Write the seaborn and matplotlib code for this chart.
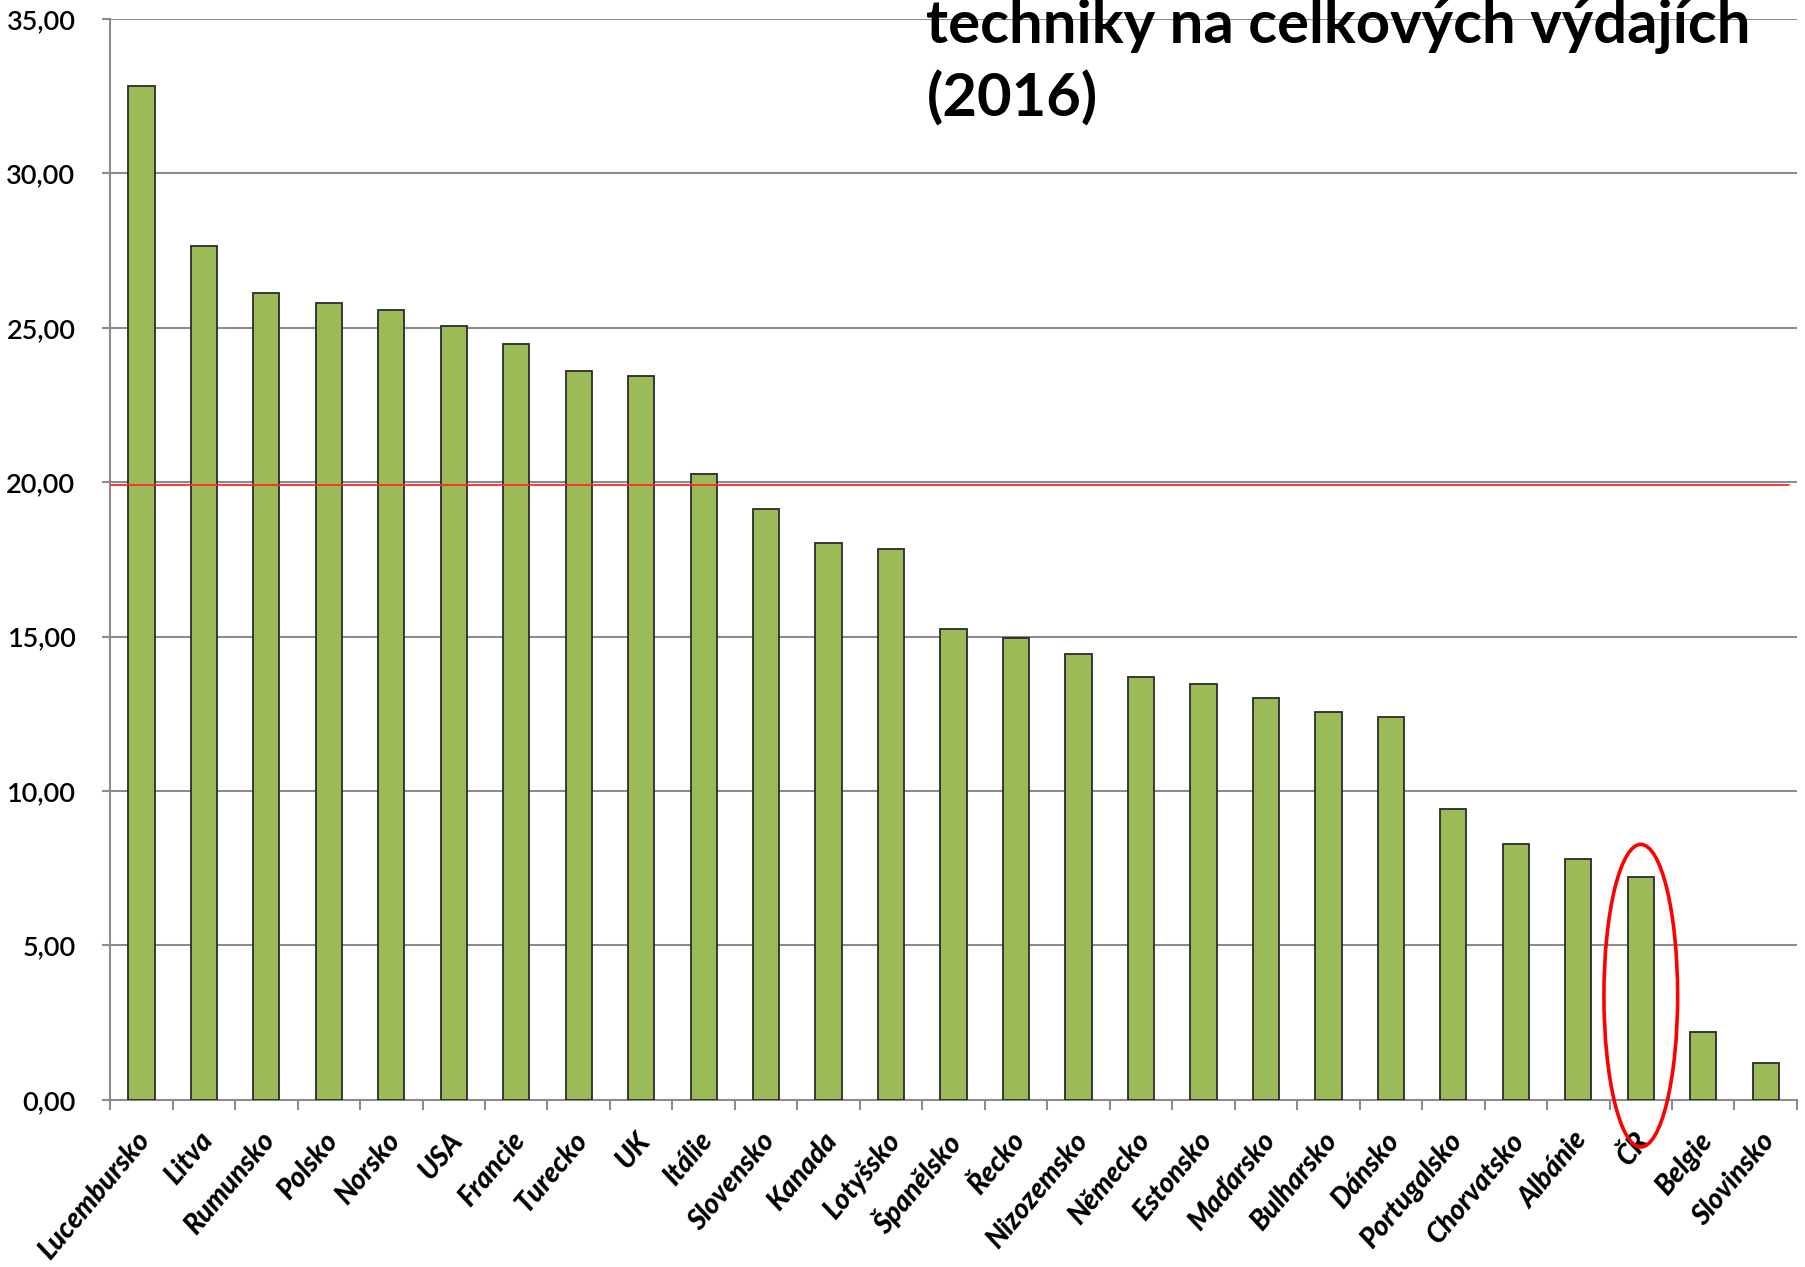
import numpy as np
import pandas as pd
import seaborn as sns
import matplotlib.pyplot as plt
import matplotlib.transforms as mtransforms
from matplotlib.patches import Ellipse
from matplotlib.ticker import FixedLocator, FuncFormatter

# data
countries = ['Lucembursko', 'Litva', 'Rumunsko', 'Polsko', 'Norsko', 'USA', 'Francie',
             'Turecko', 'UK', 'Itálie', 'Slovensko', 'Kanada', 'Lotyšsko', 'Španělsko',
             'Řecko', 'Nizozemsko', 'Německo', 'Estonsko', 'Maďarsko', 'Bulharsko',
             'Dánsko', 'Portugalsko', 'Chorvatsko', 'Albánie', 'ČR', 'Belgie', 'Slovinsko']
values = [32.84, 27.66, 26.13, 25.79, 25.57, 25.05, 24.49,
          23.59, 23.44, 20.28, 19.12, 18.04, 17.85, 15.24,
          14.95, 14.42, 13.68, 13.45, 13.01, 12.56,
          12.41, 9.43, 8.27, 7.79, 7.23, 2.20, 1.19]
target_line = 19.9
highlight = 'ČR'
yticks = [0, 5, 10, 15, 20, 25, 30, 35]
title_lines = ['techniky na celkových výdajích', '(2016)']

df = pd.DataFrame({'zeme': countries, 'podil': values})

sns.set_style('white')
plt.rcParams['font.family'] = ['Lato', 'DejaVu Sans']
plt.rcParams['text.color'] = 'black'
plt.rcParams['xtick.labelcolor'] = 'black'
plt.rcParams['ytick.labelcolor'] = 'black'

fig = plt.figure(figsize=(18.06, 12.67), dpi=100)
ax = fig.add_axes([0.061, 0.132, 0.934, 0.853])

sns.barplot(data=df, x='zeme', y='podil', color='#9BBB59', saturation=1,
            width=0.42, edgecolor='#2b2b2b', linewidth=1.3, ax=ax, zorder=3)

ax.set_ylim(0, 35)
ax.set_xlim(-0.5, len(countries) - 0.5)
ax.set_yticks(yticks)
ax.yaxis.set_major_formatter(FuncFormatter(lambda v, p: f'{v:.2f}'.replace('.', ',')))
ax.yaxis.grid(True, color='#8c8c8c', linewidth=1.5, zorder=0)
ax.set_axisbelow(True)
ax.set_xlabel('')
ax.set_ylabel('')

for side in ['top', 'right']:
    ax.spines[side].set_visible(False)
for side in ['left', 'bottom']:
    ax.spines[side].set_color('#8c8c8c')
    ax.spines[side].set_linewidth(1.5)

ax.tick_params(axis='y', left=True, length=6, width=1.5, color='#8c8c8c',
               labelsize=19.5, pad=19)
for lab in ax.get_yticklabels():
    lab.set_fontweight('semibold')
ax.tick_params(axis='x', which='major', length=0, pad=20)
ax.xaxis.set_minor_locator(FixedLocator(np.arange(-0.5, len(countries), 1)))
ax.tick_params(axis='x', which='minor', bottom=True, length=7, width=1.5, color='#8c8c8c')
shift = mtransforms.ScaledTranslation(0.14, 0, fig.dpi_scale_trans)
for lab in ax.get_xticklabels():
    lab.set_rotation(50)
    lab.set_ha('right')
    lab.set_va('top')
    lab.set_fontsize(20)
    lab.set_fontweight('black')
    lab.set_fontstyle('italic')
    lab.set_transform(lab.get_transform() + shift)

ax.axhline(target_line, xmin=0, xmax=0.995, color='#ff2a2a', linewidth=1.3, zorder=4)

idx = countries.index(highlight)
ell = Ellipse((idx, 3.37), width=1.18, height=9.8, fill=False, edgecolor='red',
              linewidth=2.6, clip_on=False, zorder=5)
ax.add_patch(ell)

fig.text(0.513, 0.966, title_lines[0], fontsize=43, fontweight='bold', va='baseline', color='black')
fig.text(0.513, 0.908, title_lines[1], fontsize=43, fontweight='bold', va='baseline', color='black')

fig.savefig('out.png', dpi=100)
